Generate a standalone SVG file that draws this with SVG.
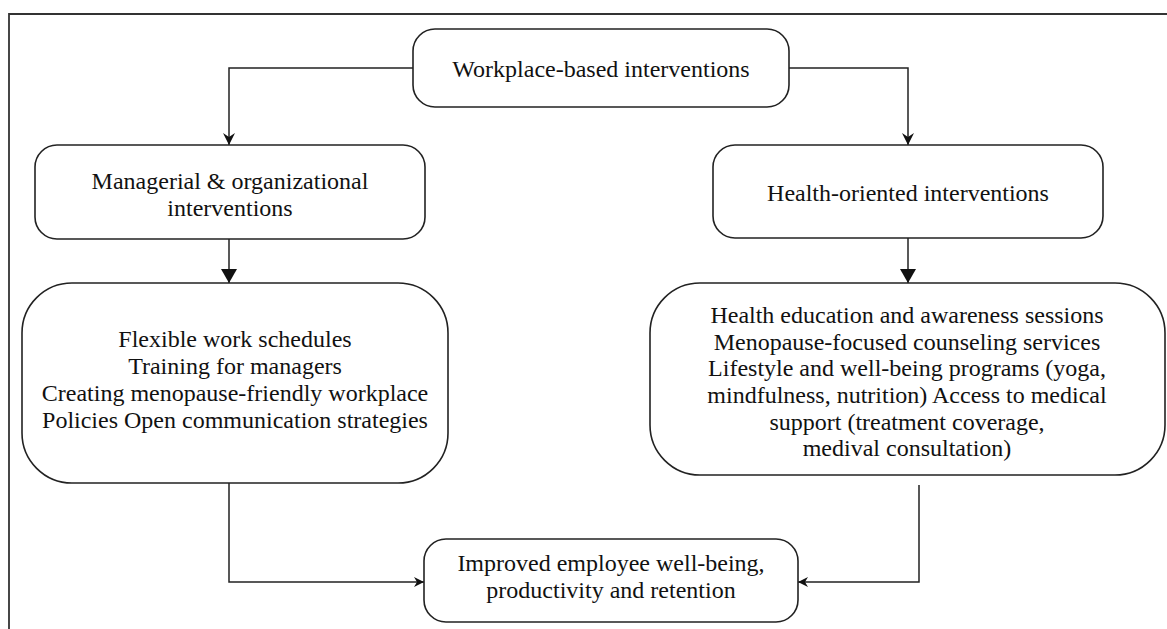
<svg xmlns="http://www.w3.org/2000/svg" width="1167" height="629" viewBox="0 0 1167 629">
<style>
.box{fill:#fff;stroke:#222;stroke-width:1.6}
.frame{fill:none;stroke:#333;stroke-width:1.8}
.conn{fill:none;stroke:#222;stroke-width:1.5}
text{font-family:"Liberation Serif","Times New Roman",serif;font-size:24px;fill:#111;text-anchor:middle}
</style>
<defs>
<marker id="stealth" viewBox="0 0 12 12" refX="12" refY="6" markerWidth="12" markerHeight="12" markerUnits="userSpaceOnUse" orient="auto">
<path d="M0,0 L12,6 L0,12 L4,6 Z" fill="#111"/>
</marker>
<marker id="tri" viewBox="0 0 14 16" refX="14" refY="8" markerWidth="14" markerHeight="16" markerUnits="userSpaceOnUse" orient="auto">
<path d="M0,0 L14,8 L0,16 Z" fill="#111"/>
</marker>
<marker id="small" viewBox="0 0 10 10" refX="10" refY="5" markerWidth="10" markerHeight="10" markerUnits="userSpaceOnUse" orient="auto">
<path d="M0,0 L10,5 L0,10 L3,5 Z" fill="#111"/>
</marker>
</defs>
<rect width="1167" height="629" fill="#fff"/>
<path class="frame" d="M9,629 L9,14 L1167,14"/>
<g id="connectors">
<path class="conn" d="M413,68 L229,68 L229,145" marker-end="url(#stealth)"/>
<path class="conn" d="M789,68 L908,68 L908,145" marker-end="url(#stealth)"/>
<path class="conn" d="M229,239 L229,283" marker-end="url(#tri)"/>
<path class="conn" d="M908,238 L908,283" marker-end="url(#tri)"/>
<path class="conn" d="M229,483 L229,582 L424,582" marker-end="url(#small)"/>
<path class="conn" d="M919,485 L919,582 L798,582" marker-end="url(#small)"/>
</g>
<g id="node-workplace">
<rect class="box" x="413" y="29" width="376" height="78" rx="22" ry="22"/>
<text x="601" y="77">Workplace-based interventions</text>
</g>
<g id="node-managerial">
<rect class="box" x="35" y="145" width="390" height="94" rx="22" ry="22"/>
<text x="230" y="189">Managerial &amp; organizational</text>
<text x="230" y="216">interventions</text>
</g>
<g id="node-health">
<rect class="box" x="713" y="145" width="390" height="93" rx="22" ry="22"/>
<text x="908" y="201">Health-oriented interventions</text>
</g>
<g id="node-managerial-list">
<rect class="box" x="22" y="283" width="426" height="200" rx="50" ry="50"/>
<text x="235" y="347">Flexible work schedules</text>
<text x="235" y="374">Training for managers</text>
<text x="235" y="401">Creating menopause-friendly workplace</text>
<text x="235" y="428">Policies Open communication strategies</text>
</g>
<g id="node-health-list">
<rect class="box" x="650" y="283" width="515" height="192" rx="50" ry="50"/>
<text x="907" y="323">Health education and awareness sessions</text>
<text x="907" y="349.5">Menopause-focused counseling services</text>
<text x="907" y="376">Lifestyle and well-being programs (yoga,</text>
<text x="907" y="403">mindfulness, nutrition) Access to medical</text>
<text x="907" y="429.5">support (treatment coverage,</text>
<text x="907" y="456">medival consultation)</text>
</g>
<g id="node-outcome">
<rect class="box" x="424" y="539" width="374" height="83" rx="22" ry="22"/>
<text x="611" y="571">Improved employee well-being,</text>
<text x="611" y="598">productivity and retention</text>
</g>
</svg>
